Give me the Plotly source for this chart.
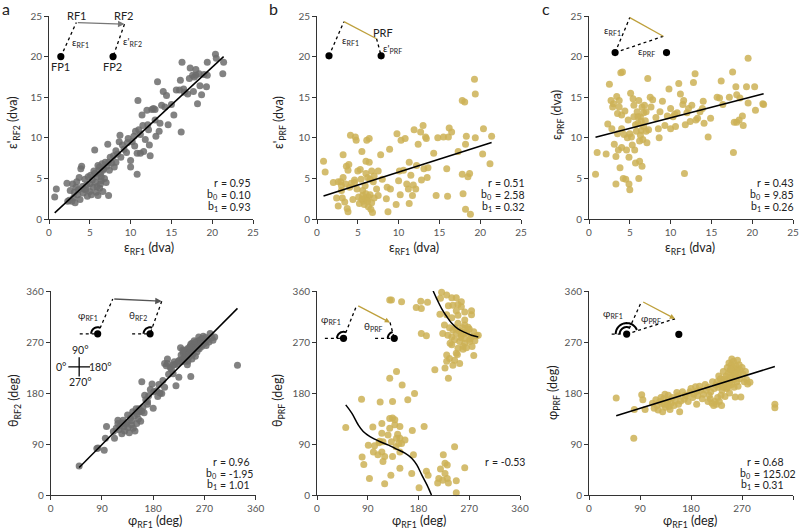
import numpy as np
import plotly.graph_objects as go

# ---- values ----
# a, top: eccentricity RF1 vs eccentricity RF2 (dva)
a_top_x = [0.7, 0.9, 2.2, 2.6, 2.8, 2.9, 3.0, 3.1, 3.2, 3.3,
           3.5, 3.6, 3.8, 3.9, 4.0, 3.7, 4.1, 4.2, 4.4, 4.5,
           4.7, 4.8, 5.0, 5.0, 5.1, 5.3, 5.4, 5.5, 5.6, 5.7,
           5.8, 5.9, 6.0, 6.1, 6.2, 6.2, 6.3, 6.4, 6.5, 6.6,
           6.7, 6.8, 6.9, 7.0, 7.1, 7.2, 7.3, 7.4, 7.5, 7.7,
           7.9, 8.0, 8.2, 8.4, 8.6, 8.7, 8.8, 9.0, 9.2, 9.5,
           9.7, 10.0, 10.0, 10.2, 10.4, 10.5, 10.6, 10.8, 10.8, 10.9,
           11.0, 11.2, 11.4, 11.5, 11.6, 11.8, 12.0, 12.1, 12.3, 12.4,
           12.6, 12.8, 13.0, 13.1, 13.3, 13.5, 13.6, 13.8, 14.0, 14.2,
           14.4, 14.6, 15.0, 15.3, 15.6, 16.0, 16.1, 16.2, 16.3, 16.5,
           16.6, 17.0, 17.3, 17.6, 17.7, 18.0, 18.0, 18.2, 18.4, 18.5,
           18.7, 19.0, 19.3, 19.4, 19.4, 20.4, 20.5, 21.3, 21.4, 2.3,
           2.5, 3.4, 4.3, 4.6, 5.2, 5.9, 6.4, 6.0, 6.6, 7.3,
           8.2, 9.6, 11.2, 12.2, 13.0, 17.2, 17.8, 6.3, 5.6]
a_top_y = [2.7, 3.7, 4.4, 3.5, 2.2, 4.3, 2.6, 3.3, 2.0, 3.9,
           3.0, 3.6, 2.4, 6.2, 6.5, 5.1, 4.0, 3.2, 4.9, 3.6,
           2.8, 5.2, 4.3, 3.4, 5.4, 4.8, 3.9, 5.9, 8.5, 4.5,
           3.3, 5.2, 2.9, 6.0, 3.8, 6.4, 5.6, 4.7, 6.8, 3.4,
           6.2, 5.0, 7.0, 4.5, 6.5, 9.2, 2.9, 6.0, 7.6, 6.9,
           7.8, 6.4, 8.4, 8.0, 9.5, 10.3, 7.6, 9.1, 8.6, 8.2,
           9.9, 7.2, 6.4, 9.5, 10.2, 9.0, 10.8, 5.5, 8.1, 14.6,
           11.0, 8.1, 12.8, 11.5, 8.3, 9.8, 13.4, 11.6, 9.1, 7.8,
           13.5, 13.6, 12.2, 10.2, 16.9, 10.8, 11.8, 14.0, 15.7, 13.8,
           15.2, 11.6, 14.1, 12.8, 15.9, 15.9, 17.1, 10.7, 19.3, 16.0,
           15.6, 15.4, 18.6, 17.7, 15.7, 17.7, 18.4, 14.2, 17.9, 16.4,
           15.3, 17.8, 16.3, 17.7, 19.3, 20.3, 19.8, 17.9, 19.3, 2.2,
           2.3, 4.6, 3.7, 4.2, 3.0, 4.0, 5.2, 6.6, 6.0, 7.0,
           7.0, 9.4, 10.4, 11.0, 13.5, 17.3, 17.5, 4.3, 5.6]

# b, top: eccentricity RF1 vs eccentricity of PRF relative to FP2
b_top_x = [0.8, 1.0, 2.0, 2.4, 2.6, 2.6, 2.9, 3.0, 3.1, 3.2,
           3.2, 3.4, 3.5, 3.6, 3.7, 3.8, 3.8, 3.9, 4.0, 4.1,
           4.2, 4.4, 4.6, 4.7, 4.8, 4.9, 5.0, 5.1, 5.2, 5.3,
           5.4, 5.5, 5.5, 5.6, 5.7, 5.8, 5.9, 6.0, 6.0, 6.1,
           6.1, 6.2, 6.3, 6.3, 6.4, 6.4, 6.5, 6.6, 6.7, 6.7,
           6.8, 6.9, 7.0, 7.3, 7.5, 7.5, 7.8, 8.0, 8.5, 8.6,
           8.7, 8.9, 9.0, 9.7, 9.8, 10.0, 10.1, 10.2, 10.3, 10.6,
           10.8, 11.0, 11.2, 11.3, 11.3, 11.5, 11.7, 11.8, 11.9, 12.1,
           12.2, 12.4, 12.7, 12.8, 13.0, 13.1, 13.3, 13.4, 13.5, 13.6,
           14.3, 14.6, 14.8, 15.5, 15.9, 16.0, 16.1, 16.2, 16.5, 17.3,
           17.8, 17.8, 17.9, 18.1, 18.2, 18.3, 18.2, 18.5, 18.7, 18.8,
           19.3, 19.4, 19.4, 20.3, 20.4, 21.4, 21.2, 5.6, 6.2, 5.9,
           4.6, 3.0, 6.5, 7.0, 6.0]
b_top_y = [7.1, 5.8, 4.5, 2.6, 4.6, 1.6, 4.6, 3.5, 2.6, 5.1,
           7.9, 2.1, 4.3, 6.5, 1.3, 0.9, 6.0, 6.7, 3.9, 10.3,
           4.4, 2.4, 4.5, 10.1, 9.7, 3.7, 5.9, 2.7, 1.9, 6.1,
           4.9, 2.4, 8.3, 3.5, 2.2, 1.8, 2.6, 7.1, 3.1, 2.4,
           9.7, 5.1, 1.5, 2.7, 9.9, 7.0, 3.0, 1.2, 2.0, 5.9,
           0.8, 4.6, 5.3, 3.7, 2.9, 5.9, 7.9, 4.9, 2.5, 3.9,
           0.9, 8.6, 3.7, 1.8, 10.5, 4.7, 5.9, 3.0, 9.7, 6.0,
           9.9, 4.3, 3.7, 1.9, 7.0, 5.4, 2.9, 4.2, 11.0, 3.7,
           6.6, 9.2, 10.7, 4.8, 11.5, 6.2, 10.1, 9.9, 5.1, 6.3,
           8.1, 2.9, 10.0, 10.1, 6.2, 2.8, 10.1, 11.2, 10.7, 8.3,
           14.6, 5.5, 3.1, 14.4, 9.2, 10.2, 1.2, 5.2, 5.6, 0.6,
           17.2, 15.4, 10.0, 8.0, 11.1, 10.2, 6.8, 2.9, 2.2, 4.1,
           4.8, 4.1, 4.9, 2.6, 5.6]

# c, top: eccentricity RF1 vs eccentricity of PRF
c_top_x = [0.8, 1.0, 2.1, 2.3, 2.5, 2.7, 2.8, 2.9, 3.0, 3.1,
           3.3, 3.3, 3.4, 3.5, 3.5, 3.6, 3.7, 3.8, 3.9, 4.0,
           4.0, 4.1, 4.2, 4.3, 4.4, 4.5, 4.6, 4.7, 4.8, 4.9,
           4.9, 5.0, 5.0, 5.1, 5.2, 5.3, 5.4, 5.5, 5.5, 5.6,
           5.7, 5.8, 5.9, 6.0, 6.1, 6.1, 6.2, 6.2, 6.3, 6.4,
           6.5, 6.5, 6.6, 6.7, 6.8, 6.9, 7.0, 7.1, 7.2, 7.3,
           7.5, 7.6, 7.8, 8.2, 8.5, 8.6, 8.7, 9.0, 9.3, 9.6,
           9.8, 10.0, 10.0, 10.3, 10.5, 10.8, 11.0, 11.2, 11.5, 11.6,
           11.7, 11.8, 12.0, 12.4, 12.6, 12.8, 13.0, 13.1, 13.3, 13.6,
           13.9, 14.0, 14.1, 14.6, 14.9, 15.7, 16.0, 16.2, 16.4, 17.2,
           17.6, 17.7, 17.8, 18.0, 18.1, 18.1, 18.4, 18.5, 18.8, 18.9,
           19.3, 19.5, 19.5, 20.3, 20.4, 21.3, 21.4, 6.0, 6.3, 5.7,
           7.0, 6.7, 4.0, 3.7, 10.6, 12.2, 6.4]
c_top_y = [5.5, 8.2, 8.0, 11.7, 16.6, 14.6, 11.1, 13.8, 14.2, 9.2,
           7.7, 4.3, 15.1, 13.0, 10.5, 8.5, 14.6, 6.3, 18.0, 8.8,
           11.1, 18.1, 5.0, 10.4, 13.3, 4.9, 8.5, 10.0, 12.2, 4.3,
           7.6, 3.6, 10.5, 15.5, 10.1, 9.1, 14.8, 12.6, 14.0, 8.5,
           6.9, 10.8, 13.2, 11.8, 5.0, 14.6, 9.6, 7.1, 12.6, 10.9,
           13.8, 6.5, 9.8, 11.4, 14.0, 12.1, 13.2, 9.4, 17.3, 11.0,
           15.0, 13.8, 14.7, 12.5, 11.1, 10.0, 13.2, 14.5, 11.5, 12.7,
           16.0, 13.6, 11.1, 12.6, 12.9, 13.1, 16.7, 15.4, 14.1, 14.6,
           5.6, 11.6, 13.1, 12.0, 14.0, 16.8, 17.9, 12.2, 12.4, 13.2,
           13.6, 14.5, 11.8, 10.1, 12.4, 15.0, 14.9, 17.0, 14.1, 15.0,
           18.1, 8.2, 11.9, 16.3, 11.9, 15.3, 12.2, 14.9, 12.7, 11.5,
           16.3, 19.8, 14.3, 16.3, 13.4, 14.2, 14.1, 12.6, 10.3, 11.6,
           10.8, 13.1, 12.8, 13.8, 11.4, 13.6, 12.0]

# a, bottom: polar angle RF1 vs RF2 (deg)
a_bot_x = [50, 81, 83, 94, 96, 98, 110, 112, 115, 118,
           120, 122, 125, 127, 128, 130, 132, 134, 135, 136,
           138, 140, 142, 144, 145, 147, 148, 150, 151, 152,
           154, 156, 158, 160, 160, 162, 164, 165, 167, 170,
           172, 175, 178, 180, 181, 186, 188, 192, 195, 197,
           200, 200, 203, 205, 207, 210, 212, 215, 217, 218,
           220, 222, 224, 225, 226, 228, 229, 230, 232, 233,
           234, 235, 236, 237, 238, 239, 240, 240, 241, 242,
           243, 244, 245, 246, 247, 248, 249, 250, 250, 251,
           252, 253, 254, 255, 256, 257, 258, 259, 260, 261,
           262, 263, 264, 265, 266, 267, 268, 270, 272, 273,
           275, 278, 280, 283, 285, 288, 328, 240, 246, 232,
           245, 255, 260, 268, 248, 252, 205, 215, 118, 126,
           142, 155, 170, 190]
a_bot_y = [51, 82, 83, 79, 100, 121, 112, 100, 118, 126,
           115, 122, 108, 132, 120, 113, 125, 128, 141, 119,
           110, 136, 131, 147, 118, 140, 113, 152, 126, 143,
           134, 147, 130, 148, 200, 155, 145, 176, 168, 160,
           175, 186, 196, 153, 182, 184, 174, 180, 179, 202,
           190, 232, 228, 240, 213, 225, 222, 214, 235, 230,
           193, 232, 236, 208, 238, 260, 247, 235, 240, 250,
           254, 242, 236, 244, 252, 248, 258, 256, 236, 248,
           244, 261, 252, 266, 255, 240, 250, 260, 249, 264,
           257, 262, 245, 270, 264, 253, 268, 260, 272, 258,
           265, 274, 270, 262, 276, 266, 272, 268, 278, 264,
           274, 270, 285, 278, 273, 279, 229, 230, 209, 256,
           262, 258, 279, 280, 268, 272, 232, 230, 132, 127,
           124, 152, 165, 195]

# b, bottom: polar angle RF1 vs polar angle PRF
b_bot_x = [221, 230, 239, 219, 247, 256, 129, 132, 150, 184,
           196, 176, 185, 233, 241, 250, 256, 274, 262, 247,
           218, 230, 239, 250, 262, 274, 226, 235, 241, 250,
           262, 270, 278, 283, 286, 185, 194, 223, 232, 239,
           247, 256, 262, 271, 244, 253, 262, 271, 239, 250,
           259, 278, 247, 249, 235, 230, 253, 227, 209, 241,
           233, 259, 265, 256, 265, 274, 230, 244, 252, 258,
           266, 268, 255, 245, 260, 280, 275, 236,
           141, 129, 151, 173, 161, 79, 112, 134, 51, 99,
           129, 134, 138, 115, 129, 138, 147, 169, 190, 126,
           117, 111, 143, 147, 150, 132, 140, 91, 102, 110,
           115, 108, 120, 134, 80, 83, 93, 117, 147, 131,
           168, 194, 197, 120, 181, 224, 227, 231, 219, 227,
           216, 223, 231, 233, 214, 244, 247, 262, 247, 141,
           156, 115, 100, 147, 171, 145]
b_bot_y = [358, 353, 348, 347, 348, 341, 344, 344, 341, 342,
           340, 331, 329, 334, 335, 336, 332, 325, 323, 325,
           319, 318, 313, 317, 309, 318, 300, 295, 291, 303,
           300, 293, 288, 281, 282, 285, 281, 285, 282, 279,
           285, 282, 276, 275, 274, 271, 268, 271, 265, 259,
           262, 246, 250, 248, 241, 236, 232, 224, 221, 229,
           206, 257, 260, 288, 288, 279, 247, 238, 290, 295,
           286, 296, 278, 295, 285, 272, 262, 268,
           218, 206, 194, 179, 168, 169, 164, 165, 119, 120,
           135, 136, 133, 126, 118, 124, 121, 114, 121, 106,
           94, 95, 107, 100, 91, 94, 85, 88, 87, 92,
           76, 71, 68, 68, 67, 54, 29, 59, 47, 35,
           38, 42, 35, 20, 13, 71, 56, 53, 46, 38,
           29, 26, 29, 21, 21, 85, 25, 48, 4, 100,
           97, 109, 76, 76, 71, 91]

# c, bottom: polar angle RF1 vs polar angle PRF
c_bot_x = [48, 79, 80, 93, 95, 99, 112, 115, 118, 120,
           122, 125, 127, 129, 130, 132, 134, 135, 138, 140,
           141, 143, 145, 147, 150, 152, 155, 157, 158, 160,
           162, 165, 168, 170, 172, 175, 178, 180, 183, 185,
           188, 190, 192, 195, 197, 200, 202, 205, 207, 210,
           212, 214, 215, 217, 218, 220, 221, 222, 224, 225,
           226, 227, 228, 229, 230, 231, 232, 233, 234, 235,
           236, 237, 238, 239, 240, 241, 242, 243, 244, 245,
           246, 247, 248, 249, 250, 251, 252, 253, 254, 255,
           256, 257, 258, 259, 260, 261, 262, 263, 264, 265,
           266, 267, 268, 270, 272, 274, 276, 278, 280, 284,
           255, 258, 250, 245, 262, 252, 248, 256, 328, 328,
           210, 190, 140, 133]
c_bot_y = [171, 100, 151, 177, 168, 151, 162, 153, 168, 158,
           150, 165, 172, 160, 147, 170, 178, 155, 163, 168,
           156, 151, 162, 172, 158, 166, 181, 175, 160, 147,
           166, 182, 169, 176, 175, 165, 182, 188, 172, 178,
           191, 183, 175, 192, 185, 170, 178, 195, 185, 190,
           176, 170, 182, 162, 200, 158, 188, 165, 194, 160,
           200, 172, 190, 210, 165, 195, 205, 176, 158, 185,
           200, 218, 190, 205, 174, 196, 210, 188, 225, 203,
           215, 233, 198, 220, 208, 230, 195, 224, 212, 236,
           204, 218, 173, 228, 210, 200, 222, 192, 215, 230,
           205, 220, 173, 225, 213, 200, 218, 204, 196, 199,
           225, 215, 222, 190, 238, 240, 180, 190, 160, 154,
           165, 160, 176, 160]

# fit statistics printed in the panels: (r, b0, b1)
fit_a_top = (0.95, 0.10, 0.93)
fit_b_top = (0.51, 2.58, 0.32)
fit_c_top = (0.43, 9.85, 0.26)
fit_a_bot = (0.96, -1.95, 1.01)
fit_b_bot_r = -0.53
fit_c_bot = (0.68, 125.02, 0.31)

# circular fit of panel b bottom (wraps at 0/360)
b_curve_lo_x = [51, 62, 73, 82, 94, 112, 127, 141, 156, 168, 177, 186, 195, 203]
b_curve_lo_y = [159, 144, 124, 112, 103, 94, 88, 81, 74, 65, 53, 35, 18, 0]
b_curve_hi_x = [206, 212, 221, 230, 239, 250, 262, 274, 286]
b_curve_hi_y = [360, 347, 329, 315, 303, 293, 287, 282, 279]

ecc_ticks = [0, 5, 10, 15, 20, 25]
ang_ticks = [0, 90, 180, 270, 360]

GRAY = "rgb(108,108,108)"
GOLD = "rgb(204,178,86)"
GOLD_LINE = "rgb(190,160,60)"
FONT = "Lato"
W, H = 800, 531


def px(v):
    return v / W


def py(v):
    return 1 - v / H


fig = go.Figure()

# panel geometry in pixels: (x0, x1), (ytop, ybottom)
geo = {
    1: ((49, 253), (16, 219)),
    2: ((317, 521), (16, 219)),
    3: ((589, 793), (16, 219)),
    4: ((50.7, 255.7), (291, 495)),
    5: ((317, 520), (291, 495)),
    6: ((589, 793), (291, 495)),
}

axis_common = dict(showline=True, linecolor="#333", linewidth=1, ticks="outside",
                   ticklen=4, tickwidth=1, tickcolor="#333", showgrid=False,
                   zeroline=False, tickfont=dict(size=10, color="#555", family=FONT),
                   fixedrange=True)

for i, ((x0, x1), (yt, yb)) in geo.items():
    s = "" if i == 1 else str(i)
    ticks = ecc_ticks if i <= 3 else ang_ticks
    fig.layout["xaxis" + s] = dict(axis_common, domain=[px(x0), px(x1)], anchor="y" + s,
                                   range=[0, ticks[-1]], tickvals=ticks)
    fig.layout["yaxis" + s] = dict(axis_common, domain=[py(yb), py(yt)], anchor="x" + s,
                                   range=[0, ticks[-1]], tickvals=ticks)


def refs(i):
    s = "" if i == 1 else str(i)
    return "x" + s, "y" + s


def add_points(i, x, y, color):
    xr, yr = refs(i)
    fig.add_trace(go.Scatter(x=x, y=y, xaxis=xr, yaxis=yr, mode="markers",
                             marker=dict(size=7, color=color, opacity=0.85, line=dict(width=0)),
                             cliponaxis=False, showlegend=False, hoverinfo="skip"))


def add_fit(i, x, b0, b1):
    xr, yr = refs(i)
    xs = np.array([min(x), max(x)])
    fig.add_trace(go.Scatter(x=xs, y=b0 + b1 * xs, xaxis=xr, yaxis=yr, mode="lines",
                             line=dict(color="black", width=1.5), showlegend=False,
                             hoverinfo="skip"))


add_points(1, a_top_x, a_top_y, GRAY)
add_points(2, b_top_x, b_top_y, GOLD)
add_points(3, c_top_x, c_top_y, GOLD)
add_points(4, a_bot_x, a_bot_y, GRAY)
add_points(5, b_bot_x, b_bot_y, GOLD)
add_points(6, c_bot_x, c_bot_y, GOLD)

add_fit(1, a_top_x, fit_a_top[1], fit_a_top[2])
add_fit(2, b_top_x, fit_b_top[1], fit_b_top[2])
add_fit(3, c_top_x, fit_c_top[1], fit_c_top[2])
add_fit(4, a_bot_x, fit_a_bot[1], fit_a_bot[2])
add_fit(6, c_bot_x, fit_c_bot[1], fit_c_bot[2])
for cx, cy in [(b_curve_lo_x, b_curve_lo_y), (b_curve_hi_x, b_curve_hi_y)]:
    fig.add_trace(go.Scatter(x=cx, y=cy, xaxis="x5", yaxis="y5", mode="lines",
                             line=dict(color="black", width=1.5, shape="spline"),
                             showlegend=False, hoverinfo="skip"))

shapes = []
annots = []


def dotted(i, p0, p1):
    xr, yr = refs(i)
    shapes.append(dict(type="line", xref=xr, yref=yr, x0=p0[0], y0=p0[1], x1=p1[0], y1=p1[1],
                       line=dict(color="black", width=1.3, dash="dot")))


def solid(i, p0, p1, color):
    xr, yr = refs(i)
    shapes.append(dict(type="line", xref=xr, yref=yr, x0=p0[0], y0=p0[1], x1=p1[0], y1=p1[1],
                       line=dict(color=color, width=1.3)))


def arrow(i, p0, p1, color, size=1.0):
    xr, yr = refs(i)
    annots.append(dict(x=p1[0], y=p1[1], ax=p0[0], ay=p0[1], xref=xr, yref=yr, axref=xr,
                       ayref=yr, text="", showarrow=True, arrowhead=2, arrowsize=size,
                       arrowwidth=1.3, arrowcolor=color, standoff=0))


def spot(i, p):
    xr, yr = refs(i)
    shapes.append(dict(type="circle", xref=xr, yref=yr, xsizemode="pixel", ysizemode="pixel",
                       xanchor=p[0], yanchor=p[1], x0=-3.6, x1=3.6, y0=-3.6, y1=3.6,
                       fillcolor="black", line=dict(width=0)))


def arc(i, p, r, a0, a1):
    xr, yr = refs(i)
    t = np.radians(np.linspace(a0, a1, 24))
    path = "M" + " L".join(f"{r * np.cos(v):.2f},{r * np.sin(v):.2f}" for v in t)
    shapes.append(dict(type="path", xref=xr, yref=yr, xsizemode="pixel", ysizemode="pixel",
                       xanchor=p[0], yanchor=p[1], path=path,
                       line=dict(color="black", width=2)))


def label(i, x, y, text, size=11, color="#222"):
    xr, yr = refs(i)
    annots.append(dict(x=x, y=y, xref=xr, yref=yr, text=text, showarrow=False,
                       font=dict(size=size, color=color, family=FONT)))


# schematic a, top
fp1, fp2, rf1, rf2 = (1.45, 20.0), (7.85, 20.0), (3.35, 24.2), (9.25, 24.0)
dotted(1, fp1, rf1)
dotted(1, rf2, fp2)
arrow(1, rf1, rf2, "#777")
spot(1, fp1)
spot(1, fp2)
label(1, 3.45, 25.0, "RF1")
label(1, 9.25, 25.0, "RF2")
label(1, 1.35, 18.75, "FP1")
label(1, 7.8, 18.75, "FP2")
label(1, 3.9, 21.7, "ε<sub>RF1</sub>", 10)
label(1, 10.2, 21.9, "ε'<sub>RF2</sub>", 10)

# schematic b, top
d1, d2, rf1, prf = (1.47, 20.1), (7.86, 20.1), (3.3, 24.3), (7.3, 22.2)
dotted(2, d1, rf1)
dotted(2, prf, d2)
solid(2, rf1, prf, GOLD_LINE)
spot(2, d1)
spot(2, d2)
label(2, 3.4, 25.05, "RF1")
label(2, 8.1, 22.95, "PRF")
label(2, 4.1, 22.0, "ε<sub>RF1</sub>", 10)
label(2, 9.2, 21.0, "ε'<sub>PRF</sub>", 10)

# schematic c, top
d1, d2, apex, v2 = (3.2, 20.5), (9.5, 20.5), (5.0, 24.8), (9.1, 22.5)
dotted(3, d1, apex)
dotted(3, d1, v2)
solid(3, apex, v2, GOLD_LINE)
spot(3, d1)
spot(3, d2)
label(3, 2.85, 23.2, "ε<sub>RF1</sub>", 10)
label(3, 7.0, 20.6, "ε<sub>PRF</sub>", 10)

# schematic a, bottom
d1, d2, top1, top2 = (82.5, 284.5), (174.5, 284.5), (109, 346), (195, 342)
dotted(4, (51, 284.5), d1)
dotted(4, (143, 284.5), d2)
dotted(4, d1, top1)
dotted(4, top2, d2)
arrow(4, top1, top2, "#555")
arc(4, d1, 6.5, 67, 180)
arc(4, d2, 6.5, 70, 180)
spot(4, d1)
spot(4, d2)
label(4, 66, 316, "φ<sub>RF1</sub>", 10)
label(4, 153, 316, "θ<sub>RF2</sub>", 10)
solid(4, (31, 226), (69, 226), "black")
solid(4, (50, 243), (50, 209), "black")
label(4, 51.5, 256, "90°", 10.5)
label(4, 18, 226, "0°", 10.5)
label(4, 87.5, 226, "180°", 10.5)
label(4, 51.5, 199, "270°", 10.5)

# schematic b, bottom
d1, d2, apex, v2 = (47, 276.5), (137, 276.5), (70.5, 335), (129.5, 304.5)
dotted(5, (14, 276.5), d1)
dotted(5, (103, 276.5), d2)
dotted(5, d1, apex)
dotted(5, v2, d2)
arrow(5, apex, v2, GOLD_LINE, 0.8)
arc(5, d1, 6.5, 68, 180)
arc(5, d2, 6.5, 104, 180)
spot(5, d1)
spot(5, d2)
label(5, 25, 309, "φ<sub>RF1</sub>", 10)
label(5, 100, 297.5, "θ<sub>PRF</sub>", 10)

# schematic c, bottom
d1, d2, apex, v2 = (66.5, 284), (158.5, 283.5), (93, 342), (151.8, 311)
dotted(6, (40, 284), d1)
dotted(6, d1, apex)
dotted(6, d1, v2)
arrow(6, apex, v2, GOLD_LINE, 0.8)
arc(6, d1, 7, 66, 180)
arc(6, d1, 11, 22, 180)
spot(6, d1)
spot(6, d2)
label(6, 43, 320, "φ<sub>RF1</sub>", 10)
label(6, 110, 311, "φ<sub>PRF</sub>", 10)


def paper_text(x, y, text, size, xanchor="center", angle=0, color="#222"):
    annots.append(dict(x=px(x), y=py(y), xref="paper", yref="paper", text=text,
                       showarrow=False, xanchor=xanchor, yanchor="middle", textangle=angle,
                       borderpad=0, font=dict(size=size, color=color, family=FONT)))


# panel letters
paper_text(1, 8, "a", 16, "left")
paper_text(268, 8, "b", 16, "left")
paper_text(541, 8, "c", 16, "left")

# axis titles
paper_text(149, 248, "ε<sub>RF1</sub> (dva)", 12.5)
paper_text(414, 248, "ε<sub>RF1</sub> (dva)", 12.5)
paper_text(690, 248, "ε<sub>RF1</sub> (dva)", 12.5)
paper_text(155, 521, "φ<sub>RF1</sub> (deg)", 12.5)
paper_text(419, 521, "φ<sub>RF1</sub> (deg)", 12.5)
paper_text(690, 521, "φ<sub>RF1</sub> (deg)", 12.5)
paper_text(14, 123, "ε'<sub>RF2</sub> (dva)", 12.5, angle=-90)
paper_text(280, 123, "ε'<sub>PRF</sub> (dva)", 12.5, angle=-90)
paper_text(557, 115, "ε<sub>PRF</sub> (dva)", 12.5, angle=-90)
paper_text(14, 401, "θ<sub>RF2</sub> (deg)", 12.5, angle=-90)
paper_text(278, 401, "θ<sub>PRF</sub> (deg)", 12.5, angle=-90)
paper_text(553, 393, "φ<sub>PRF</sub> (deg)", 12.5, angle=-90)


def stats(x_eq, ys, fit):
    # lines are lined up on the "=" sign, as in the figure
    names = ["r", "b<sub>0</sub>", "b<sub>1</sub>"]
    for name, y, v in zip(names, ys, fit):
        paper_text(x_eq - 5, y, name, 10.5, "right")
        paper_text(x_eq - 4, y, f"= {v:.2f}", 10.5, "left")


stats(224, [183, 195, 207], fit_a_top)
stats(498, [183, 195, 207], fit_b_top)
stats(767, [183, 195, 207], fit_c_top)
stats(223, [462, 473.5, 485], fit_a_bot)
stats(495, [462], [fit_b_bot_r])
stats(757, [462, 473.5, 485], fit_c_bot)

fig.update_layout(width=W, height=H, margin=dict(l=0, r=0, t=0, b=0, autoexpand=False),
                  paper_bgcolor="white", plot_bgcolor="white", showlegend=False,
                  font=dict(family=FONT, color="#222"), shapes=shapes, annotations=annots)

# drop the browser's default 8px body margin so the figure sits at the page origin
fig.write_html("out.html", config={"displayModeBar": False},
               post_script="document.body.style.margin='0';"
                           "document.body.style.overflow='hidden';")
